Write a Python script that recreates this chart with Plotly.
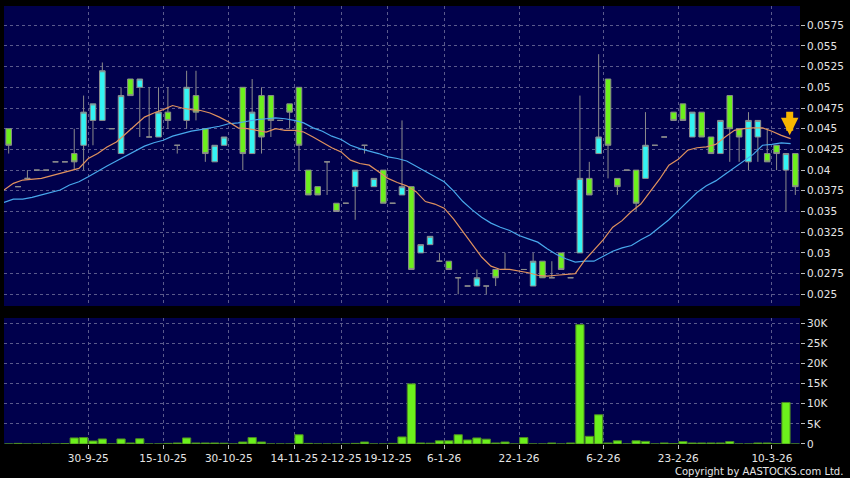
import plotly.graph_objects as go

# ---------------- data ----------------
days = list(range(85))

opens = [0.045, 0.038, 0.039, 0.040, 0.040, 0.041, 0.041, 0.042, 0.043, 0.046,
         0.046, 0.045, 0.042, 0.051, 0.050, 0.044, 0.044, 0.047, 0.043, 0.046,
         0.049, 0.045, 0.041, 0.043, None, 0.050, 0.042, 0.049, 0.049, 0.046,
         0.048, 0.050, 0.040, 0.038, 0.041, 0.036, 0.036, 0.038, 0.043, 0.038,
         0.040, 0.036, 0.037, 0.038, 0.030, 0.031, 0.029, 0.029, 0.027, 0.026,
         0.026, 0.026, 0.028, 0.028, None, 0.028, 0.026, 0.029, 0.027, 0.030,
         0.027, 0.030, 0.039, 0.042, 0.051, 0.039, 0.040, 0.040, 0.039, 0.043,
         0.044, 0.047, 0.048, 0.044, 0.047, 0.044, 0.042, 0.049, 0.045, 0.041,
         0.044, 0.042, 0.043, 0.040, 0.042]
highs = [0.045, 0.038, 0.040, 0.040, 0.040, 0.041, 0.041, 0.045, 0.049, 0.048,
         0.053, 0.045, 0.050, 0.051, 0.051, 0.050, 0.050, 0.050, 0.043, 0.052,
         0.052, 0.045, 0.043, 0.044, None, 0.050, 0.051, 0.050, 0.049, 0.046,
         0.048, 0.050, 0.040, 0.038, 0.041, 0.036, 0.036, 0.040, 0.043, 0.039,
         0.040, 0.036, 0.046, 0.038, 0.031, 0.032, 0.030, 0.029, 0.027, 0.026,
         0.028, 0.026, 0.028, 0.030, None, 0.028, 0.030, 0.029, 0.029, 0.030,
         0.027, 0.049, 0.041, 0.054, 0.051, 0.039, 0.040, 0.040, 0.047, 0.043,
         0.044, 0.047, 0.048, 0.047, 0.047, 0.044, 0.046, 0.049, 0.045, 0.047,
         0.046, 0.045, 0.043, 0.042, 0.042]
lows = [0.042, 0.038, 0.039, 0.040, 0.040, 0.041, 0.041, 0.040, 0.040, 0.043,
        0.046, 0.045, 0.042, 0.049, 0.044, 0.044, 0.044, 0.045, 0.042, 0.045,
        0.046, 0.041, 0.041, 0.043, None, 0.040, 0.042, 0.042, 0.044, 0.046,
        0.045, 0.040, 0.037, 0.037, 0.037, 0.035, 0.036, 0.034, 0.042, 0.038,
        0.036, 0.036, 0.037, 0.028, 0.030, 0.031, 0.029, 0.028, 0.025, 0.026,
        0.026, 0.025, 0.026, 0.028, None, 0.028, 0.026, 0.027, 0.027, 0.028,
        0.027, 0.030, 0.037, 0.042, 0.039, 0.037, 0.040, 0.035, 0.039, 0.043,
        0.044, 0.046, 0.046, 0.044, 0.044, 0.042, 0.042, 0.041, 0.041, 0.040,
        0.041, 0.041, 0.040, 0.035, 0.037]
closes = [0.043, 0.038, 0.039, 0.040, 0.040, 0.041, 0.041, 0.041, 0.047, 0.048,
          0.052, 0.045, 0.049, 0.049, 0.051, 0.044, 0.047, 0.046, 0.043, 0.050,
          0.047, 0.042, 0.043, 0.044, None, 0.042, 0.047, 0.044, 0.046, 0.046,
          0.047, 0.043, 0.037, 0.037, 0.041, 0.035, 0.036, 0.040, 0.043, 0.039,
          0.036, 0.036, 0.038, 0.028, 0.031, 0.032, 0.029, 0.028, 0.027, 0.026,
          0.027, 0.026, 0.027, 0.028, None, 0.028, 0.029, 0.027, 0.027, 0.028,
          0.027, 0.039, 0.037, 0.044, 0.043, 0.038, 0.040, 0.036, 0.043, 0.043,
          0.044, 0.046, 0.046, 0.047, 0.044, 0.042, 0.046, 0.045, 0.044, 0.046,
          0.046, 0.041, 0.042, 0.042, 0.038]

volumes = [0, 150, 0, 0, 0, 0, 100, 1500, 1600, 750,
           1250, 0, 1250, 250, 1300, 0, 0, 150, 250, 1500,
           250, 250, 250, 200, 0, 500, 1600, 500, 0, 0,
           0, 2300, 150, 0, 0, 0, 0, 150, 500, 0,
           0, 150, 1750, 14900, 250, 200, 800, 800, 2300, 1000,
           1500, 1200, 250, 500, 0, 1600, 0, 0, 250, 0,
           250, 29600, 1900, 7250, 250, 800, 0, 800, 650, 0,
           250, 100, 600, 250, 250, 250, 250, 600, 0, 0,
           250, 250, 100, 10300, 0]

ma_fast = [0.0376, 0.0384, 0.0388, 0.0389, 0.0390, 0.0393, 0.0396, 0.0399, 0.0402, 0.0414,
           0.0420, 0.0428, 0.0434, 0.0444, 0.0454, 0.0464, 0.0469, 0.0473, 0.0478, 0.0475,
           0.0473, 0.0472, 0.0469, 0.0464, 0.0458, 0.0451, 0.0450, 0.0448, 0.0446, 0.0450,
           0.0448, 0.0448, 0.0446, 0.0440, 0.0433, 0.0427, 0.0422, 0.0412, 0.0408, 0.0406,
           0.0398, 0.0390, 0.0385, 0.0381, 0.0374, 0.0362, 0.0359, 0.0354, 0.0341, 0.0326,
           0.0310, 0.0295, 0.0284, 0.0280, 0.0280, 0.0278, 0.0276, 0.0273, 0.0272, 0.0273,
           0.0274, 0.0275, 0.0291, 0.0303, 0.0316, 0.0331, 0.0339, 0.0350, 0.0359, 0.0374,
           0.0389, 0.0406, 0.0413, 0.0424, 0.0427, 0.0428, 0.0431, 0.0440, 0.0448, 0.0450,
           0.0451, 0.0451, 0.0447, 0.0442, 0.0438]
ma_slow = [0.0361, 0.0365, 0.0365, 0.0367, 0.0370, 0.0373, 0.0376, 0.0382, 0.0386, 0.0392,
           0.0398, 0.0405, 0.0411, 0.0417, 0.0422, 0.0429, 0.0433, 0.0436, 0.0441, 0.0444,
           0.0447, 0.0449, 0.0451, 0.0453, 0.0456, 0.0457, 0.0459, 0.0461, 0.0462, 0.0463,
           0.0462, 0.0460, 0.0457, 0.0451, 0.0447, 0.0441, 0.0437, 0.0430, 0.0426, 0.0423,
           0.0420, 0.0416, 0.0414, 0.0411, 0.0405, 0.0398, 0.0392, 0.0386, 0.0375, 0.0362,
           0.0352, 0.0343, 0.0336, 0.0331, 0.0327, 0.0321, 0.0317, 0.0313, 0.0305, 0.0298,
           0.0293, 0.0289, 0.0290, 0.0290, 0.0296, 0.0302, 0.0306, 0.0309, 0.0316, 0.0322,
           0.0331, 0.0340, 0.0351, 0.0362, 0.0373, 0.0381, 0.0387, 0.0395, 0.0403, 0.0411,
           0.0419, 0.0430, 0.0431, 0.0433, 0.0432]

date_ticks = [8.5, 16.5, 23.5, 30.5, 35.5, 40.5, 46.5, 54.5, 63.5, 71.5, 81.5]
date_labels = ["30-9-25", "15-10-25", "30-10-25", "14-11-25", "2-12-25", "19-12-25",
               "6-1-26", "22-1-26", "6-2-26", "23-2-26", "10-3-26"]
price_ticks = [0.025, 0.0275, 0.03, 0.0325, 0.035, 0.0375, 0.04, 0.0425,
               0.045, 0.0475, 0.05, 0.0525, 0.055, 0.0575]
price_labels = ["0.025", "0.0275", "0.03", "0.0325", "0.035", "0.0375", "0.04",
                "0.0425", "0.045", "0.0475", "0.05", "0.0525", "0.055", "0.0575"]
vol_ticks = [0, 5000, 10000, 15000, 20000, 25000, 30000]
vol_labels = ["0", "5K", "10K", "15K", "20K", "25K", "30K"]
signal_day = 83.4
signal_price = 0.0442

# ---------------- figure ----------------
valid = [i for i in days if opens[i] is not None]
GRID = "#5a5a8c"
TXT = "#e6e6e6"
FONT = "DejaVu Sans"

fig = go.Figure()
fig.add_trace(go.Candlestick(
    x=[days[i] for i in valid],
    open=[opens[i] for i in valid], high=[highs[i] for i in valid],
    low=[lows[i] for i in valid], close=[closes[i] for i in valid],
    increasing=dict(fillcolor="#33f4f4", line=dict(color="#8c8c8c", width=1)),
    decreasing=dict(fillcolor="#6cf01c", line=dict(color="#8c8c8c", width=1)),
    xaxis="x", yaxis="y", hoverinfo="skip"))
ma_x = [d - 0.5 for d in days]
fig.add_trace(go.Scatter(x=ma_x, y=ma_slow, mode="lines",
                         line=dict(color="#48a8ec", width=1.2),
                         xaxis="x", yaxis="y", hoverinfo="skip"))
fig.add_trace(go.Scatter(x=ma_x, y=ma_fast, mode="lines",
                         line=dict(color="#e0925e", width=1.2),
                         xaxis="x", yaxis="y", hoverinfo="skip"))
fig.add_trace(go.Bar(x=days, y=volumes,
                     marker=dict(color="#6cf01c", line=dict(color="#4c8a22", width=1)),
                     xaxis="x2", yaxis="y2", hoverinfo="skip"))

fig.add_annotation(x=signal_day, y=signal_price, xref="x", yref="y",
                   ax=0, ay=-25, showarrow=True, arrowhead=2, arrowsize=0.5,
                   arrowwidth=7, arrowcolor="#f7b600", text="")

fig.add_annotation(text="Copyright by AASTOCKS.com Ltd.", xref="paper", yref="paper",
                   x=1.0565, y=-0.062, xanchor="right", yanchor="middle",
                   showarrow=False, font=dict(family=FONT, size=10, color=TXT))

axis_common = dict(showline=False, zeroline=False, gridcolor=GRID, griddash="3px,3px",
                   gridwidth=1)
fig.update_layout(
    width=850, height=478,
    paper_bgcolor="black", plot_bgcolor="#00004c",
    margin=dict(l=4, r=50, t=6, b=34),
    showlegend=False, boxgap=0.15, bargap=0.12,
    font=dict(family=FONT, size=10.5, color=TXT),
    xaxis=dict(domain=[0, 1], range=[-0.5, 84.5], anchor="y",
               tickvals=date_ticks, showticklabels=False, ticks="",
               rangeslider=dict(visible=False), showgrid=True, **axis_common),
    yaxis=dict(domain=[0.3151, 1], range=[0.02359, 0.05982], side="right",
               tickvals=price_ticks, ticktext=price_labels, ticks="outside",
               ticklen=4, tickcolor="#bdbdbd", showgrid=True, anchor="x",
               **axis_common),
    xaxis2=dict(domain=[0, 1], range=[-0.5, 84.5], anchor="y2",
                tickvals=date_ticks, ticktext=date_labels, ticks="outside",
                ticklen=4, tickcolor="#bdbdbd", showgrid=True, **axis_common),
    yaxis2=dict(domain=[0, 0.2877], range=[0, 31250], side="right",
                tickvals=vol_ticks, ticktext=vol_labels, ticks="outside",
                ticklen=4, tickcolor="#bdbdbd", showgrid=True, anchor="x2",
                **axis_common),
)

fig.write_html("out.html", config={"displayModeBar": False},
               post_script="document.body.style.margin='0';document.body.style.background='black';")
